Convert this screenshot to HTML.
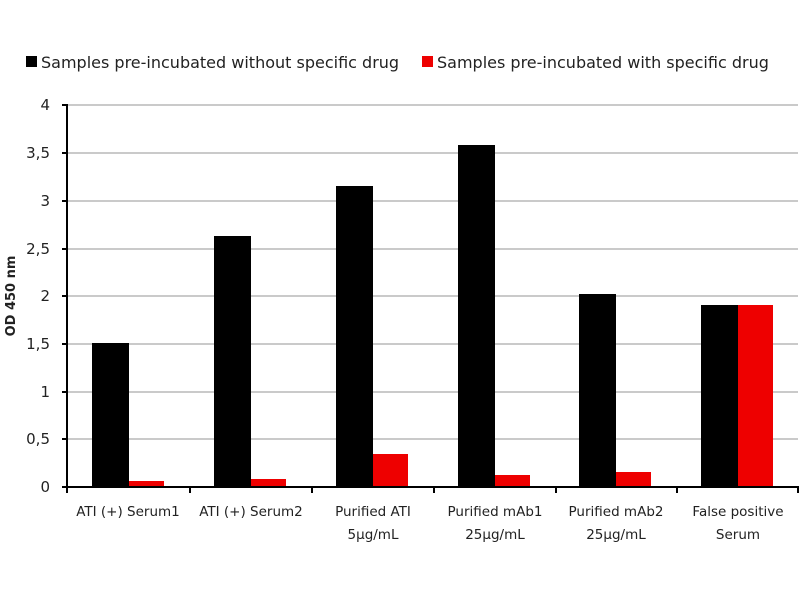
<!DOCTYPE html>
<html><head><style>body{margin:0;background:#fff}svg{display:block}text{font-family:"DejaVu Sans","Liberation Sans",sans-serif;fill:#222}</style></head>
<body>
<svg width="800" height="600" viewBox="0 0 800 600">
<rect x="26" y="56" width="11" height="11" fill="#000"/>
<text x="41" y="68" font-size="16">Samples pre-incubated without specific drug</text>
<rect x="422" y="56" width="11" height="11" fill="#e00"/>
<text x="437" y="68" font-size="16">Samples pre-incubated with specific drug</text>
<g stroke="#aaa" stroke-width="1.2">
<line x1="67" x2="798" y1="105" y2="105"/><line x1="67" x2="798" y1="153" y2="153"/>
<line x1="67" x2="798" y1="201" y2="201"/><line x1="67" x2="798" y1="249" y2="249"/>
<line x1="67" x2="798" y1="296" y2="296"/><line x1="67" x2="798" y1="344" y2="344"/>
<line x1="67" x2="798" y1="392" y2="392"/><line x1="67" x2="798" y1="439" y2="439"/>
</g>
<g font-size="15" text-anchor="end">
<text x="50" y="110">4</text><text x="50" y="158">3,5</text><text x="50" y="206">3</text><text x="50" y="254">2,5</text><text x="50" y="301">2</text><text x="50" y="349">1,5</text><text x="50" y="397">1</text><text x="50" y="444">0,5</text><text x="50" y="492">0</text>
</g>
<text transform="translate(15,296) rotate(-90)" font-size="13" font-weight="bold" text-anchor="middle">OD 450 nm</text>
<g fill="#000">
<rect x="92" y="343" width="37" height="144"/>
<rect x="214" y="236" width="37" height="251"/>
<rect x="336" y="186" width="37" height="301"/>
<rect x="458" y="145" width="37" height="342"/>
<rect x="579" y="294" width="37" height="193"/>
<rect x="701" y="305" width="37" height="182"/>
</g>
<g fill="#e00">
<rect x="129" y="481" width="35" height="6"/>
<rect x="251" y="479" width="35" height="8"/>
<rect x="373" y="454" width="35" height="33"/>
<rect x="495" y="475" width="35" height="12"/>
<rect x="616" y="472" width="35" height="15"/>
<rect x="738" y="305" width="35" height="182"/>
</g>
<g stroke="#000" stroke-width="2">
<line x1="67" x2="67" y1="104" y2="488"/>
<line x1="66" x2="799" y1="487" y2="487"/>
<line x1="62" x2="67" y1="105" y2="105"/><line x1="62" x2="67" y1="153" y2="153"/><line x1="62" x2="67" y1="201" y2="201"/><line x1="62" x2="67" y1="249" y2="249"/><line x1="62" x2="67" y1="296" y2="296"/><line x1="62" x2="67" y1="344" y2="344"/><line x1="62" x2="67" y1="392" y2="392"/><line x1="62" x2="67" y1="439" y2="439"/><line x1="62" x2="67" y1="487" y2="487"/>
<line x1="67" x2="67" y1="487" y2="493"/><line x1="190" x2="190" y1="487" y2="493"/><line x1="312" x2="312" y1="487" y2="493"/><line x1="434" x2="434" y1="487" y2="493"/><line x1="556" x2="556" y1="487" y2="493"/><line x1="677" x2="677" y1="487" y2="493"/><line x1="798" x2="798" y1="487" y2="493"/>
</g>
<g font-size="13.5" text-anchor="middle">
<text x="128" y="516">ATI (+) Serum1</text>
<text x="251" y="516">ATI (+) Serum2</text>
<text x="373" y="516">Purified ATI</text><text x="373" y="539">5µg/mL</text>
<text x="495" y="516">Purified mAb1</text><text x="495" y="539">25µg/mL</text>
<text x="616" y="516">Purified mAb2</text><text x="616" y="539">25µg/mL</text>
<text x="738" y="516">False positive</text><text x="738" y="539">Serum</text>
</g>
</svg>
</body></html>
